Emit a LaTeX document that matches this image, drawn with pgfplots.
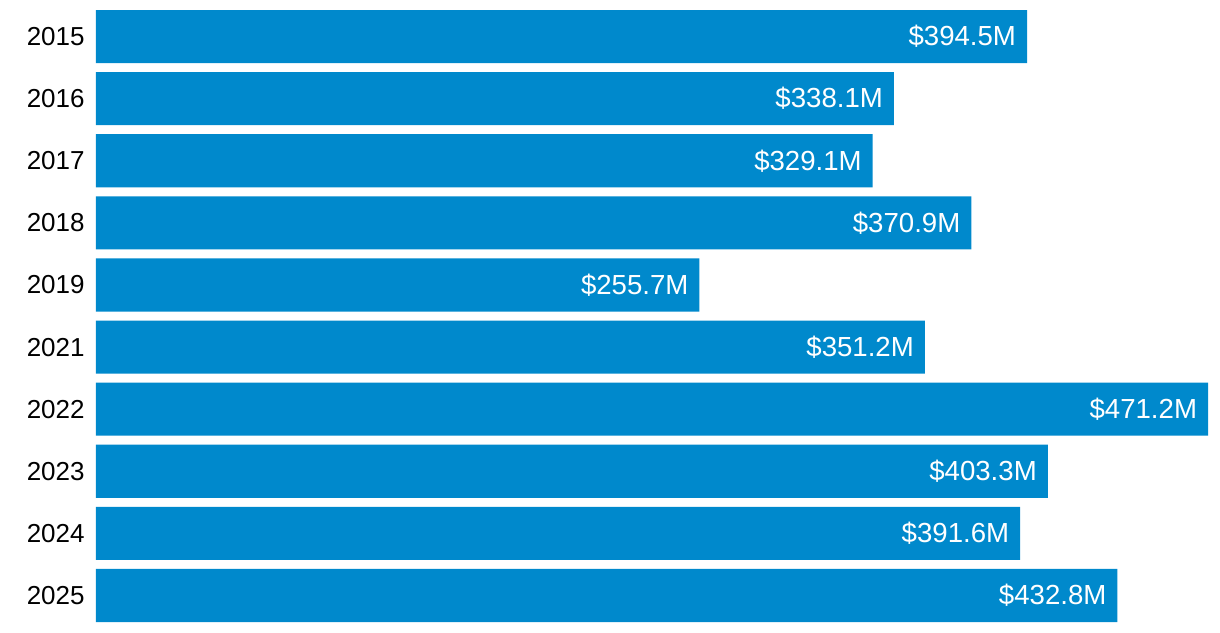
\documentclass[border=0pt]{standalone}
\usepackage{fontspec}
\setmainfont{Liberation Sans}
\usepackage{pgfplots}
\pgfplotsset{compat=1.18}
\definecolor{barblue}{RGB}{0,137,204}

\begin{document}
\begin{tikzpicture}
\begin{axis}[
    scale only axis,
    width=556pt, height=306pt,
    xbar, bar width=0.855,
    bar shift=0pt,
    xmin=0, xmax=471.2,
    ymin=-0.4275, ymax=9.4275,
    y dir=reverse,
    axis line style={draw=none},
    major tick length=0pt,
    xtick=\empty,
    ytick={0,...,9},
    yticklabels={2015,2016,2017,2018,2019,2021,2022,2023,2024,2025},
    yticklabel style={font=\fontsize{13}{15}\selectfont, inner sep=0pt, xshift=-5.5pt},
    /pgf/number format/assume math mode=true,
    nodes near coords={\$\pgfmathprintnumber[fixed,precision=1,fixed zerofill]{\pgfplotspointmeta}M},
    every node near coord/.style={font=\fontsize{13.8}{16}\selectfont, text=white, anchor=east, inner sep=0pt, xshift=-5.3pt},
    point meta=explicit,
    clip=false,
]
\addplot[fill=barblue, draw=none] table[x=v, y=i, meta=v] {
i v
0 394.5
1 338.1
2 329.1
3 370.9
4 255.7
5 351.2
6 471.2
7 403.3
8 391.6
9 432.8
};
\end{axis}
\path ([xshift=-48pt,yshift=-5pt]current axis.south west) rectangle ([xshift=6pt,yshift=5pt]current axis.north east);
\end{tikzpicture}
\end{document}
